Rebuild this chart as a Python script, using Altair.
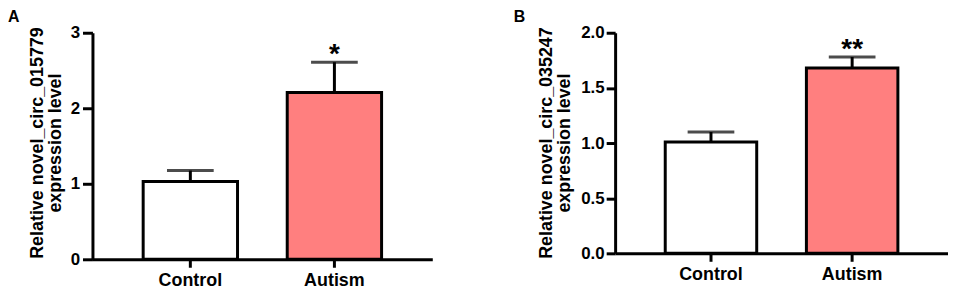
import altair as alt
import pandas as pd

categories = ["Control", "Autism"]

a_means = [1.03, 2.21]
a_errs = [0.145, 0.40]
a_sig = ["", "*"]

b_means = [1.01, 1.68]
b_errs = [0.09, 0.10]
b_sig = ["", "**"]

FONT = "Liberation Sans"
PINK = "#FF7F7F"


def panel(means, errs, sig, ymax, ticks, fmt, title_lines, letter,
          width, height, pin, pout, ytick, ypad, letter_x, title_x):
    df = pd.DataFrame({
        "group": categories,
        "mean": means,
        "upper": [m + e for m, e in zip(means, errs)],
        "sig": sig,
    })
    yscale = alt.Scale(domain=[0, ymax], nice=False, zero=True)
    yaxis = alt.Axis(values=ticks, format=fmt, title=title_lines,
                     grid=False, domainColor="black", domainWidth=3,
                     tickColor="black", tickWidth=3, tickSize=ytick,
                     labelFont=FONT, labelFontSize=17, labelFontWeight="bold",
                     labelColor="black", labelPadding=ypad,
                     titleFont=FONT, titleFontSize=18, titleFontWeight="bold",
                     titleColor="black", titleLineHeight=18,
                     titleX=title_x, titleY=110.5)
    xaxis = alt.Axis(title=None, labelAngle=0, domainColor="black", domainWidth=3,
                     tickColor="black", tickWidth=3, tickSize=8,
                     labelFont=FONT, labelFontSize=18, labelFontWeight="bold",
                     labelColor="black", labelPadding=4)
    x = alt.X("group:N", sort=categories,
              scale=alt.Scale(paddingInner=pin, paddingOuter=pout), axis=xaxis)
    base = alt.Chart(df).encode(x=x)
    err_line = base.mark_rule(color="black", strokeWidth=3).encode(
        y=alt.Y("mean:Q", scale=yscale, axis=yaxis), y2="upper:Q")
    err_cap = base.mark_tick(color="black", thickness=3, size=47).encode(
        y=alt.Y("upper:Q", scale=yscale, axis=yaxis))
    bars = base.mark_bar(stroke="black", strokeWidth=3).encode(
        y=alt.Y("mean:Q", scale=yscale, axis=yaxis),
        color=alt.Color("group:N", scale=alt.Scale(domain=categories, range=["white", PINK]),
                        legend=None))
    stars = base.mark_text(font=FONT, fontSize=28, fontWeight="bold", color="black",
                           baseline="alphabetic", dy=1).encode(
        y=alt.Y("upper:Q", scale=yscale, axis=yaxis), text="sig:N")
    lab = alt.Chart(pd.DataFrame({"t": [letter]})).mark_text(
        font=FONT, fontSize=16, fontWeight="bold", color="black",
        align="left", baseline="top").encode(
        x=alt.value(letter_x), y=alt.value(-24), text="t:N")
    return alt.layer(err_line, err_cap, bars, stars, lab).properties(width=width, height=height)


pa = panel(a_means, a_errs, a_sig, 3, [0, 1, 2, 3], "d",
           ["Relative novel_circ_015779", "expression level"], "A",
           342, 228, 0.345, 0.352, 10, 3, -85, -46)
pb = panel(b_means, b_errs, b_sig, 2, [0, 0.5, 1.0, 1.5, 2.0], ".1f",
           ["Relative novel_circ_035247", "expression level"], "B",
           335, 222, 0.352, 0.355, 9, 2, -102, -60)

chart = alt.hconcat(pa, pb, spacing=82).properties(
    padding={"left": 0, "top": 0, "right": 0, "bottom": 0}
).configure_view(stroke=None).resolve_scale(y="independent", x="independent", color="independent")

chart.save("out.html", embed_options={"renderer": "svg", "actions": False})
